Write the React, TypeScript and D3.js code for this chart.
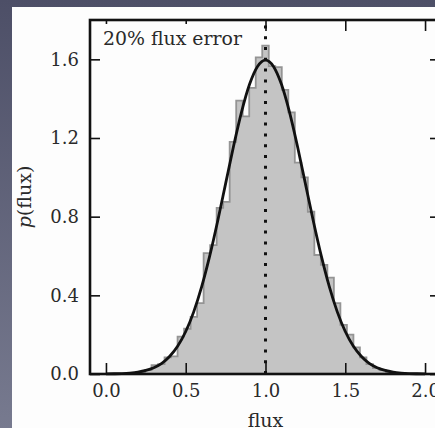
import React, { useEffect, useRef } from "react";
import * as d3 from "d3";

// histogram heights (density), 49 bins over [0, 2]
const binCounts = [
  0, 0, 0, 0, 0.005, 0.01, 0.02, 0.045, 0.05, 0.085,
  0.09, 0.19, 0.23, 0.29, 0.36, 0.615, 0.655, 0.845, 0.875, 1.18,
  1.39, 1.31, 1.455, 1.61, 1.67, 1.565, 1.56, 1.445, 1.33, 1.075,
  1.0, 0.825, 0.605, 0.555, 0.49, 0.36, 0.25, 0.2, 0.135, 0.085,
  0.05, 0.03, 0.02, 0.01, 0.005, 0.005, 0, 0, 0,
];
const binRange = [0, 2];

// model curve
const curveX = [
  0, 0.05, 0.1, 0.15, 0.2, 0.25, 0.3, 0.35, 0.4, 0.45, 0.5, 0.55, 0.6, 0.65,
  0.7, 0.75, 0.8, 0.85, 0.9, 0.95, 1.0, 1.05, 1.1, 1.15, 1.2, 1.25, 1.3, 1.35,
  1.4, 1.45, 1.5, 1.55, 1.6, 1.65, 1.7, 1.75, 1.8, 1.85, 1.9, 1.95, 2.0,
];
const curveY = [
  0.0005, 0.0012, 0.0024, 0.0049, 0.0095, 0.018, 0.032, 0.054, 0.09, 0.142,
  0.216, 0.316, 0.444, 0.599, 0.777, 0.968, 1.159, 1.333, 1.473, 1.564, 1.596,
  1.564, 1.473, 1.333, 1.159, 0.968, 0.777, 0.599, 0.444, 0.316, 0.216, 0.142,
  0.09, 0.054, 0.032, 0.018, 0.0095, 0.0049, 0.0024, 0.0012, 0.0005,
];

const xTicks = [0, 0.5, 1.0, 1.5, 2.0];
const yTicks = [0, 0.4, 0.8, 1.2, 1.6];
const markerX = 1.0;
const label = "20% flux error";

const W = 435;
const H = 428;
const L = 90, R = 441, T = 20, B = 374;
const FONT = "'DejaVu Serif', serif";

export default function App() {
  const axRef = useRef<SVGGElement>(null);

  const x = d3.scaleLinear().domain([-0.1, 2.1]).range([L, R]);
  const y = d3.scaleLinear().domain([0, 1.8]).range([B, T]);

  const nb = binCounts.length;
  const edges = d3.range(nb + 1).map((i) => binRange[0] + (i * (binRange[1] - binRange[0])) / nb);
  const stepPts: [number, number][] = [[edges[0], 0]];
  binCounts.forEach((v, i) => {
    stepPts.push([edges[i], v]);
    stepPts.push([edges[i + 1], v]);
  });
  stepPts.push([edges[nb], 0]);
  const stepLine = d3
    .line<[number, number]>()
    .x((d) => x(d[0]))
    .y((d) => y(d[1]));
  const histPath = stepLine(stepPts) + "Z";

  const curve = d3
    .line<number>()
    .x((_, i) => x(curveX[i]))
    .y((d) => y(d))
    .curve(d3.curveMonotoneX)(curveY);

  useEffect(() => {
    const g = d3.select(axRef.current);
    g.selectAll("*").remove();
    const fmt = d3.format(".1f");
    const style = (sel: any) => {
      sel.select(".domain").remove();
      sel.selectAll(".tick line").attr("stroke", "#111").attr("stroke-width", 1.6);
      sel.selectAll("text").attr("fill", "#2a2a2a").style("font-family", FONT).style("font-size", "18px");
    };
    g.append("g")
      .attr("transform", `translate(${L},0)`)
      .call(d3.axisLeft(y).tickValues(yTicks).tickSize(-10).tickPadding(11).tickFormat(fmt as any))
      .call(style);
    g.append("g")
      .attr("transform", `translate(${R},0)`)
      .call(d3.axisRight(y).tickValues(yTicks).tickSize(-11).tickFormat(() => ""))
      .call(style);
    g.append("g")
      .attr("transform", `translate(0,${B})`)
      .call(d3.axisBottom(x).tickValues(xTicks).tickSize(-11).tickPadding(10).tickFormat(fmt as any))
      .call(style);
    g.append("g")
      .attr("transform", `translate(0,${T})`)
      .call(d3.axisTop(x).tickValues(xTicks).tickSize(-11).tickFormat(() => ""))
      .call(style);
  }, []);

  return (
    <svg
      width={W}
      height={H}
      style={{ position: "absolute", left: 0, top: 0, display: "block" }}
    >
      <defs>
        <linearGradient id="bg" x1="0" y1="0" x2="0" y2="1">
          <stop offset="0" stopColor="#4d4f67" />
          <stop offset="1" stopColor="#777a8f" />
        </linearGradient>
      </defs>
      <rect x={0} y={0} width={W} height={H} fill="url(#bg)" />
      <rect x={12} y={7} width={W - 12} height={H - 7} fill="#fdfdfd" />

      <path d={histPath} fill="#c4c4c4" stroke="#949494" strokeWidth={1.8} strokeLinejoin="miter" />
      <path d={curve || ""} fill="none" stroke="#111" strokeWidth={2.8} />
      <line
        x1={x(markerX)}
        x2={x(markerX)}
        y1={y(0)}
        y2={T}
        stroke="#111"
        strokeWidth={3}
        strokeDasharray="3,7.8"
      />

      <g ref={axRef} />
      <rect x={L} y={T} width={R - L} height={B - T} fill="none" stroke="#111" strokeWidth={2.6} />

      <rect x={97} y={24} width={152} height={28} fill="#fdfdfd" />
      <text x={103} y={45} fontFamily={FONT} fontSize={18} fill="#2a2a2a" textLength={139} lengthAdjust="spacingAndGlyphs">
        {label}
      </text>

      <text x={x(1.0)} y={427} textAnchor="middle" fontFamily={FONT} fontSize={19} fill="#2a2a2a">
        flux
      </text>
      <text
        transform={`translate(31,${(T + B) / 2}) rotate(-90)`}
        textAnchor="middle"
        fontFamily={FONT}
        fontSize={19}
        fill="#2a2a2a"
      >
        <tspan fontStyle="italic">p</tspan>(flux)
      </text>
    </svg>
  );
}
